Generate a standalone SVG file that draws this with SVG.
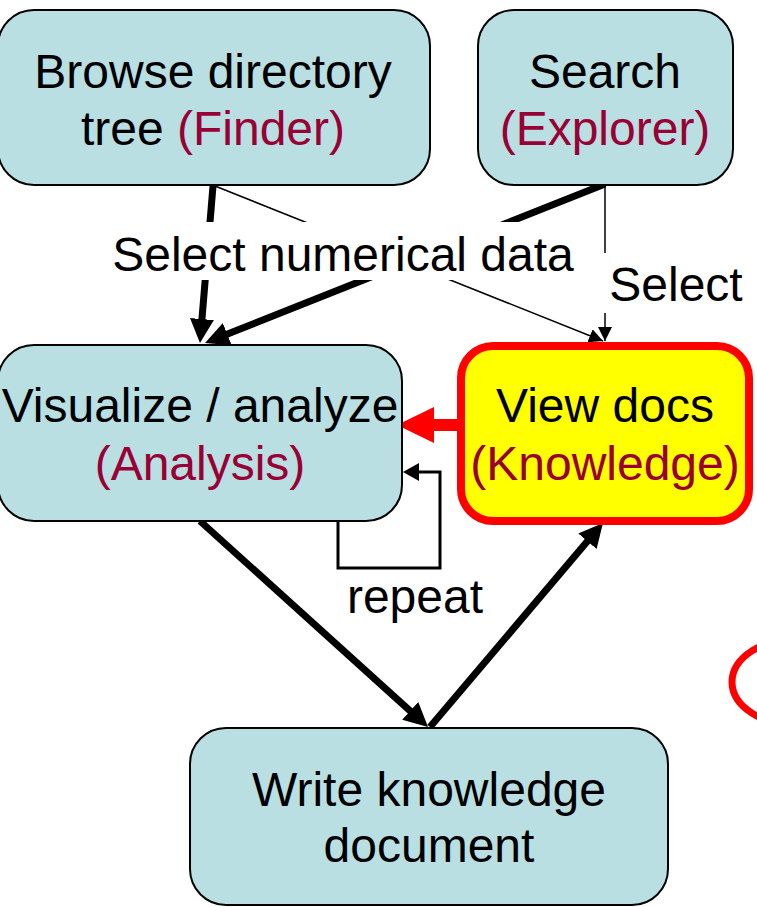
<svg xmlns="http://www.w3.org/2000/svg" width="757" height="907" viewBox="0 0 757 907">
<style>
.box{fill:#b9dfe3;stroke:#000;stroke-width:2}
.hl{fill:#ffff00;stroke:#ff0000;stroke-width:8}
text{font-family:"Liberation Sans",Arial,sans-serif;font-size:48px;text-anchor:middle;fill:#000}
.m{fill:#990033}
.thick{stroke:#000;stroke-width:7;fill:none}
.thin{stroke:#000;stroke-width:1.5;fill:none}
</style>
<defs>
<marker id="ah" viewBox="0 0 24 24" markerWidth="24" markerHeight="24" markerUnits="userSpaceOnUse" refX="14" refY="12" orient="auto">
<path d="M0,0 L24,12 L0,24 z" fill="#000"/>
</marker>
<marker id="at" viewBox="0 0 14 14" markerWidth="14" markerHeight="14" markerUnits="userSpaceOnUse" refX="14" refY="7" orient="auto">
<path d="M0,0 L14,7 L0,14 z" fill="#000"/>
</marker>
</defs>
<g id="connectors">
<line class="thin" x1="215" y1="186" x2="603" y2="341" marker-end="url(#at)"/>
<line class="thin" x1="605" y1="184" x2="605" y2="341" marker-end="url(#at)"/>
<line class="thick" x1="213" y1="186" x2="200.8" y2="333" marker-end="url(#ah)"/>
<line class="thick" x1="605" y1="184" x2="214.3" y2="339.3" marker-end="url(#ah)"/>
<line class="thick" x1="200" y1="521" x2="420.6" y2="720.3" marker-end="url(#ah)"/>
<line class="thick" x1="430" y1="727" x2="596.5" y2="530.6" marker-end="url(#ah)"/>
<line x1="460" y1="425" x2="430" y2="425" stroke="#ff0000" stroke-width="12"/>
<polygon points="397,425 434,407 434,443" fill="#ff0000"/>
<polyline points="338,521 338,568 440,568 440,472 415,472" fill="none" stroke="#000" stroke-width="3"/>
<polygon points="403,472 419,463 419,481" fill="#000"/>
<rect x="108" y="222" width="470" height="58" fill="#fff"/>
<text x="343" y="271">Select numerical data</text>
<rect x="598" y="253" width="150" height="60" fill="#fff"/>
<text x="676" y="301">Select</text>
<text x="415" y="613">repeat</text>
</g>
<g id="browse">
<rect class="box" x="-2" y="10" width="432" height="175" rx="36"/>
<text x="213" y="88">Browse directory</text>
<text x="213" y="145">tree <tspan class="m">(Finder)</tspan></text>
</g>
<g id="search">
<rect class="box" x="478" y="10" width="255" height="175" rx="36"/>
<text x="605" y="88">Search</text>
<text x="605" y="145" class="m">(Explorer)</text>
</g>
<g id="visualize">
<rect class="box" x="-2" y="345" width="404" height="176" rx="36"/>
<text x="200" y="422">Visualize / analyze</text>
<text x="200" y="480" class="m">(Analysis)</text>
</g>
<g id="viewdocs">
<rect class="hl" x="461" y="346" width="288" height="175" rx="32"/>
<text x="605" y="422">View docs</text>
<text x="605" y="480" class="m">(Knowledge)</text>
</g>
<g id="write">
<rect class="box" x="190" y="728" width="478" height="177" rx="36"/>
<text x="429" y="806">Write knowledge</text>
<text x="429" y="862">document</text>
</g>
<ellipse cx="800" cy="682" rx="68" ry="44" fill="none" stroke="#ff0000" stroke-width="7"/>
</svg>
